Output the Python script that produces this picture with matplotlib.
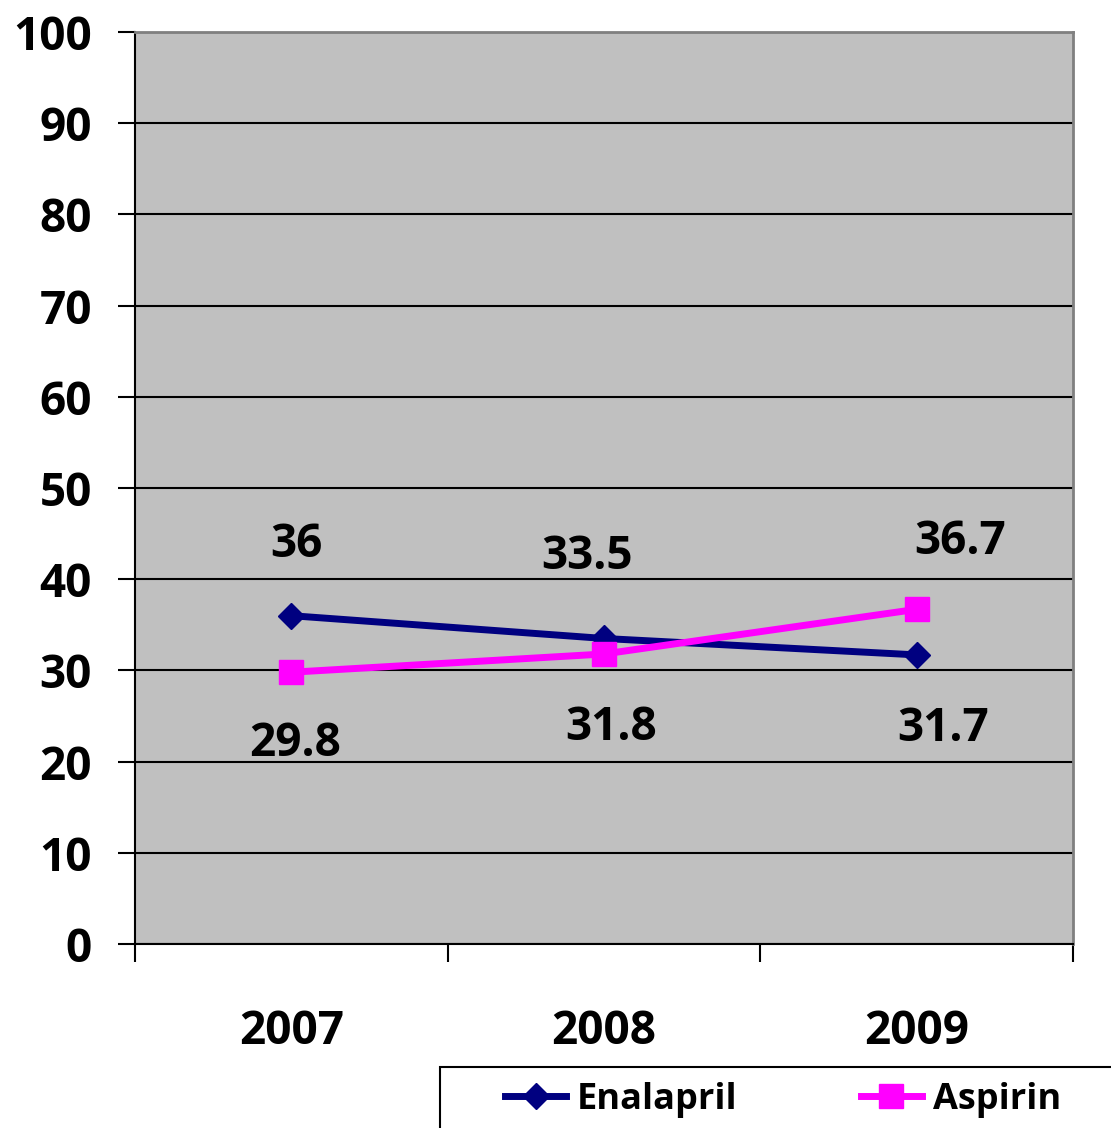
import matplotlib
matplotlib.use("Agg")
import matplotlib.pyplot as plt
from matplotlib.patches import Rectangle

plt.rcParams['font.family'] = ['Open Sans', 'DejaVu Sans']
plt.rcParams['font.weight'] = 'bold'

years = ['2007', '2008', '2009']
enalapril = [36, 33.5, 31.7]
aspirin = [29.8, 31.8, 36.7]

# label offsets (points) for each value
enal_off = [(4, 51), (-12, 59), (19, -53)]
asp_off = [(3, -51), (5, -53), (31, 49)]

fig = plt.figure(figsize=(11.11, 11.28), dpi=100)
ax = fig.add_axes([135/1111, 1 - 944/1128, 938/1111, 912/1128])
ax.set_facecolor('#C0C0C0')

x = list(range(len(years)))
ax.plot(x, enalapril, color='#000080', lw=5, marker='D', ms=13, label='Enalapril', zorder=3)
ax.plot(x, aspirin, color='#FF00FF', lw=5, marker='s', ms=17, label='Aspirin', zorder=3)

for xi, v, off in zip(x, enalapril, enal_off):
    ax.annotate(str(v), (xi, v), xytext=off, textcoords='offset points',
                ha='center', va='center', fontsize=33, fontweight='bold')
for xi, v, off in zip(x, aspirin, asp_off):
    ax.annotate(str(v), (xi, v), xytext=off, textcoords='offset points',
                ha='center', va='center', fontsize=33, fontweight='bold')

ax.set_ylim(0, 100)
ax.set_xlim(-0.5, 2.5)
ax.set_yticks(range(0, 101, 10))
ax.yaxis.grid(True, color='black', lw=1.5)
ax.set_axisbelow(True)
ax.tick_params(axis='y', length=12, width=1.5, pad=19, labelsize=33)

# category boundaries get the tick marks, names sit in between
ax.set_xticks([-0.5, 0.5, 1.5, 2.5])
ax.set_xticklabels([])
ax.set_xticks(x, minor=True)
ax.set_xticklabels(years, minor=True)
ax.tick_params(axis='x', which='major', length=13, width=1.5)
ax.tick_params(axis='x', which='minor', length=0, pad=46, labelsize=33)

for s in ['left', 'bottom']:
    ax.spines[s].set_color('black')
    ax.spines[s].set_linewidth(1.5)
for s in ['top', 'right']:
    ax.spines[s].set_color('#808080')
    ax.spines[s].set_linewidth(2)

fig.patches.append(Rectangle((440/1111, -0.05), 0.7, 1 - 1067/1128 + 0.05,
                             transform=fig.transFigure, fill=False,
                             edgecolor='black', lw=1.5))
fig.legend(loc='center left', bbox_to_anchor=(505/1111, 1 - 1100/1128), ncol=2,
           frameon=False, fontsize=26, handlelength=1.7, columnspacing=3.4,
           handletextpad=0.3, borderaxespad=0, borderpad=0)

fig.savefig('out.png', dpi=100)
